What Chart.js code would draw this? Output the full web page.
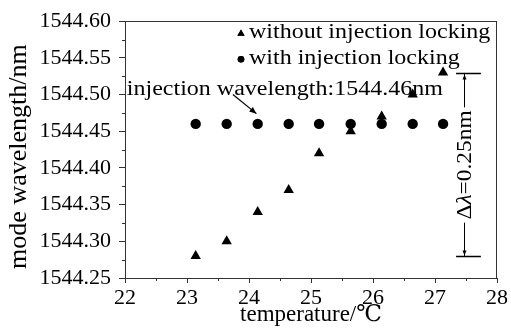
<!DOCTYPE html>
<html lang="en">
  <head>
    <meta charset="UTF-8" />
    <title>Mode wavelength vs temperature</title>
    <script src="https://cdn.jsdelivr.net/npm/chart.js"></script>
    <style>
      html, body { margin: 0; padding: 0; background: #fff; }
      #wrap { width: 511px; height: 328px; }
    </style>
  </head>
  <body>
    <div id="wrap"><canvas id="modeChart"></canvas></div>
    <script>
      // temperature (°C) and mode wavelength (nm) readings
      const temperatures = [23.14, 23.64, 24.14, 24.64, 25.13, 25.64, 26.14, 26.64, 27.13];
      const withoutLocking = [1544.28, 1544.30, 1544.34, 1544.37, 1544.42, 1544.45, 1544.47, 1544.50, 1544.53];
      const withLocking = [1544.46, 1544.46, 1544.46, 1544.46, 1544.46, 1544.46, 1544.46, 1544.46, 1544.46];

      const seriesNames = ["without injection locking", "with injection locking"];
      const xTickValues = [22, 23, 24, 25, 26, 27, 28];
      const yTickValues = [1544.25, 1544.30, 1544.35, 1544.40, 1544.45, 1544.50, 1544.55, 1544.60];

      const yTitle = "mode wavelength/nm";
      const injectionNote = "injection wavelength:1544.46nm";
      const spreadLow = 1544.28;
      const spreadHigh = 1544.53;

      const serif = '"Liberation Serif", "Times New Roman", "DejaVu Serif", serif';
      const ink = "#000";
      const frameColor = "#333";
      const stretch = 1.2;

      // draw text stretched horizontally like the printed figure
      function wideText(ctx, text, x, y, sx, align) {
        ctx.save();
        ctx.translate(x, y);
        ctx.scale(sx, 1);
        ctx.textAlign = align || "left";
        ctx.fillText(text, 0, 0);
        ctx.restore();
      }

      function arrowHead(ctx, x, y, angle, len, half) {
        ctx.save();
        ctx.translate(x, y);
        ctx.rotate(angle);
        ctx.beginPath();
        ctx.moveTo(0, 0);
        ctx.lineTo(-len, -half);
        ctx.lineTo(-len, half);
        ctx.closePath();
        ctx.fill();
        ctx.restore();
      }

      const figureExtras = {
        id: "figureExtras",
        afterDraw(chart) {
          const { ctx, chartArea: a, scales } = chart;
          const x = scales.x, y = scales.y;
          ctx.save();

          // top and right sides of the frame
          ctx.strokeStyle = frameColor;
          ctx.lineWidth = 1;
          ctx.beginPath();
          ctx.moveTo(a.left, Math.round(a.top) + 0.5);
          ctx.lineTo(a.right, Math.round(a.top) + 0.5);
          ctx.moveTo(Math.round(a.right) - 0.5, a.top);
          ctx.lineTo(Math.round(a.right) - 0.5, a.bottom);
          ctx.stroke();

          // minor ticks between labelled ticks
          ctx.beginPath();
          for (let i = 0; i < xTickValues.length - 1; i++) {
            const px = Math.round(x.getPixelForValue((xTickValues[i] + xTickValues[i + 1]) / 2)) + 0.5;
            ctx.moveTo(px, a.bottom);
            ctx.lineTo(px, a.bottom + 3);
          }
          for (let i = 0; i < yTickValues.length - 1; i++) {
            const py = Math.round(y.getPixelForValue((yTickValues[i] + yTickValues[i + 1]) / 2)) + 0.5;
            ctx.moveTo(a.left, py);
            ctx.lineTo(a.left - 3, py);
          }
          ctx.stroke();

          ctx.fillStyle = ink;
          ctx.strokeStyle = ink;
          ctx.textBaseline = "alphabetic";

          // vertical axis title, sits a little below the plot middle
          ctx.font = "25px " + serif;
          ctx.save();
          ctx.translate(26, (a.top + a.bottom) / 2 + 7);
          ctx.rotate(-Math.PI / 2);
          ctx.scale(1.04, 1);
          ctx.textAlign = "center";
          ctx.fillText(yTitle, 0, 0);
          ctx.restore();

          // legend, top right inside the plot
          ctx.font = "20px " + serif;
          const lx = a.left + 116;
          const rows = [
            { style: "triangle", r: 4.2, cy: a.top + 12.5 },
            { style: "circle", r: 3.3, cy: a.top + 38 }
          ];
          rows.forEach((row, i) => {
            Chart.helpers.drawPoint(ctx, { pointStyle: row.style, radius: row.r, borderWidth: 0 }, lx, row.cy);
            ctx.fill();
            wideText(ctx, seriesNames[i], lx + 8, row.cy + 4 + i, stretch, "left");
          });

          // injection wavelength note with arrow
          const nx = x.getPixelForValue(22.03);
          const ny = y.getPixelForValue(1544.50);
          wideText(ctx, injectionNote, nx, ny, stretch, "left");
          const ax0 = x.getPixelForValue(23.74), ay0 = y.getPixelForValue(1544.50);
          const ax1 = x.getPixelForValue(24.12), ay1 = y.getPixelForValue(1544.474);
          ctx.lineWidth = 1.2;
          ctx.beginPath();
          ctx.moveTo(ax0, ay0);
          ctx.lineTo(ax1, ay1);
          ctx.stroke();
          arrowHead(ctx, ax1, ay1, Math.atan2(ay1 - ay0, ax1 - ax0), 7, 3);

          // Δλ bracket spanning the free-running tuning range
          const bx = Math.round(x.getPixelForValue(27.47)) + 0.5;
          const bl = x.getPixelForValue(27.34), br = x.getPixelForValue(27.74);
          const top = Math.round(y.getPixelForValue(spreadHigh)) + 0.5;
          const bot = Math.round(y.getPixelForValue(spreadLow)) + 0.5;
          const mid = (top + bot) / 2;
          ctx.lineWidth = 1.5;
          ctx.beginPath();
          ctx.moveTo(bl, top); ctx.lineTo(br, top);
          ctx.moveTo(bl, bot); ctx.lineTo(br, bot);
          ctx.stroke();

          // rotated label, line broken around it
          const parts = [["Δ", ""], ["λ", "italic "], ["=0.25nm", ""]];
          let total = 0;
          parts.forEach(p => { ctx.font = p[1] + "20px " + serif; total += ctx.measureText(p[0]).width * 1.17; });
          const gapTop = mid - total / 2 - 3, gapBot = mid + total / 2 + 3;
          ctx.lineWidth = 1;
          ctx.beginPath();
          ctx.moveTo(bx, top); ctx.lineTo(bx, gapTop);
          ctx.moveTo(bx, gapBot); ctx.lineTo(bx, bot);
          ctx.stroke();
          arrowHead(ctx, bx, top + 1, -Math.PI / 2, 5, 2);
          arrowHead(ctx, bx, bot - 1, Math.PI / 2, 5, 2);

          ctx.save();
          ctx.translate(bx + 6, mid);
          ctx.rotate(-Math.PI / 2);
          ctx.scale(1.17, 1);
          let cx = -total / 2 / 1.17;
          parts.forEach(p => {
            ctx.font = p[1] + "20px " + serif;
            ctx.textAlign = "left";
            ctx.fillText(p[0], cx, 0);
            cx += ctx.measureText(p[0]).width;
          });
          ctx.restore();

          ctx.restore();
        }
      };

      const ctx = document.getElementById("modeChart").getContext("2d");
      const modeChart = new Chart(ctx, {
        type: "scatter",
        data: {
          datasets: [
            {
              label: seriesNames[0],
              data: temperatures.map((t, i) => ({ x: t, y: withoutLocking[i] })),
              pointStyle: "triangle",
              pointRadius: 6,
              backgroundColor: ink,
              borderColor: ink,
              borderWidth: 0
            },
            {
              label: seriesNames[1],
              data: temperatures.map((t, i) => ({ x: t, y: withLocking[i] })),
              pointStyle: "circle",
              pointRadius: 5.2,
              backgroundColor: ink,
              borderColor: ink,
              borderWidth: 0
            }
          ]
        },
        options: {
          responsive: true,
          maintainAspectRatio: false,
          animation: false,
          layout: { padding: { left: 0, top: 19, right: 14, bottom: 0 } },
          plugins: {
            legend: { display: false },
            tooltip: { enabled: false }
          },
          scales: {
            x: {
              type: "linear",
              min: 22,
              max: 28,
              afterBuildTicks: (scale) => { scale.ticks = xTickValues.map(v => ({ value: v })); },
              afterFit: (scale) => { scale.height = 50; },
              ticks: {
                color: ink,
                padding: 2,
                font: { family: serif, size: 22 },
                callback: (v) => String(v)
              },
              grid: { drawOnChartArea: false, drawTicks: true, tickLength: 5, color: frameColor },
              border: { display: true, color: frameColor, width: 1 },
              title: {
                display: true,
                text: "temperature/℃",
                color: ink,
                font: { family: serif, size: 23, lineHeight: 1.1 },
                padding: { top: 0, bottom: 0 }
              }
            },
            y: {
              type: "linear",
              min: 1544.25,
              max: 1544.60,
              afterBuildTicks: (scale) => { scale.ticks = yTickValues.map(v => ({ value: v })); },
              afterFit: (scale) => { scale.width = 125; },
              ticks: {
                color: ink,
                padding: 8,
                font: { family: serif, size: 22 },
                callback: (v) => Number(v).toFixed(2)
              },
              grid: { drawOnChartArea: false, drawTicks: true, tickLength: 6, color: frameColor },
              border: { display: true, color: frameColor, width: 1 },
              title: { display: false }
            }
          }
        },
        plugins: [figureExtras]
      });
    </script>
  </body>
</html>
